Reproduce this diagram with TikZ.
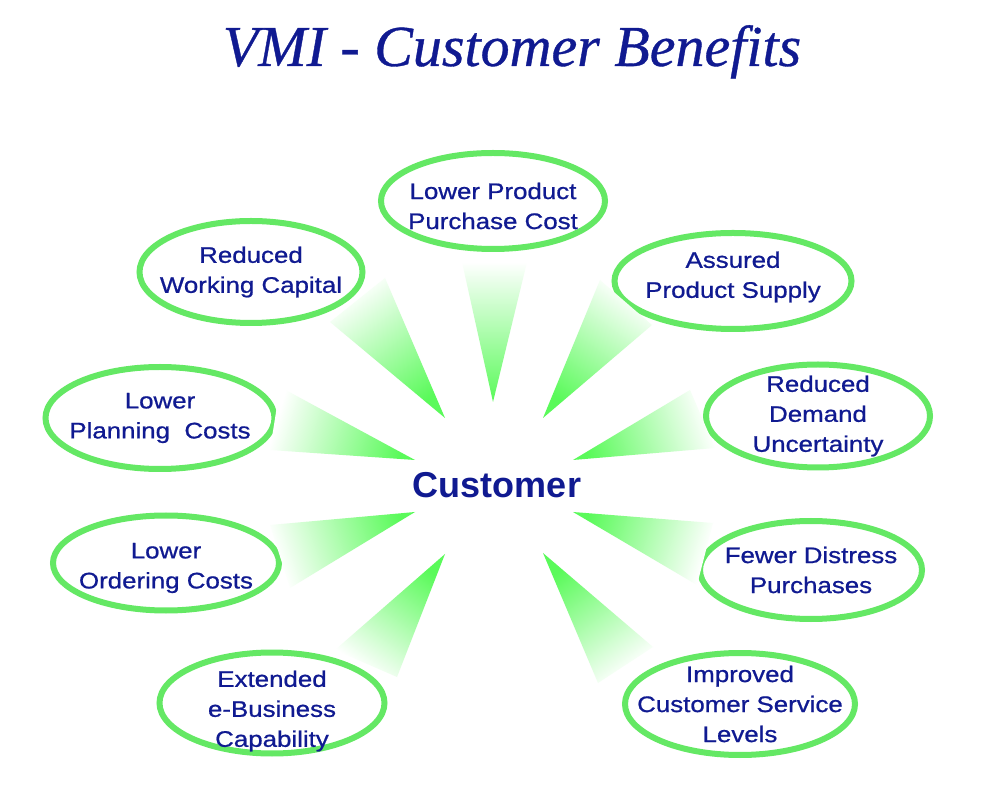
\documentclass[tikz,border=0pt]{standalone}
\usepackage{fontspec}
\setmainfont{Liberation Sans}
\newfontfamily\titlefont[FakeBold=0.6]{Liberation Serif}
\newfontfamily\boxfont[FakeStretch=1.15, FakeBold=0.8]{Liberation Sans}
\usetikzlibrary{shapes.geometric}
\definecolor{textblue}{RGB}{16,26,145}
\definecolor{ringgreen}{RGB}{100,232,100}
\definecolor{raygreen}{RGB}{90,250,90}

\begin{document}
\begin{tikzpicture}[x=1pt, y=1pt,
    benefit/.style={ellipse, draw=ringgreen, line width=6pt, fill=white, inner sep=0pt},
    btext/.style={align=center, text=textblue, font=\boxfont\fontsize{22.5}{30}\selectfont},
    ray/.style={top color=white, bottom color=raygreen}]
    \fill[white] (0,0) rectangle (1000,803);
    \useasboundingbox (0,0) rectangle (1000,803);

    \node (title) [anchor=base, text=textblue, font=\titlefont\itshape\fontsize{58}{60}\selectfont] at (512,737) {VMI - Customer Benefits};
    \node (hub) [anchor=base, text=textblue, font=\bfseries\fontsize{36}{40}\selectfont] at (497,305) {Customer};

    % benefits
    \node (1) [benefit, minimum width=224pt, minimum height=96pt, label={[btext, yshift=-5pt]center:Lower Product\\Purchase Cost}] at (493,602) {};
    \node (2) [benefit, minimum width=223pt, minimum height=102pt, label={[btext]center:Reduced\\Working Capital}] at (251,531) {};
    \node (3) [benefit, minimum width=237pt, minimum height=96pt, label={[btext, yshift=4pt]center:Assured\\Product Supply}] at (733,522) {};
    \node (4) [benefit, minimum width=229pt, minimum height=102pt, label={[btext]center:Lower\\Planning\ \ Costs}] at (160,385) {};
    \node (5) [benefit, minimum width=224pt, minimum height=103pt, label={[btext]center:Reduced\\Demand\\Uncertainty}] at (818,387) {};
    \node (6) [benefit, minimum width=226pt, minimum height=95pt, label={[btext, yshift=-5pt]center:Lower\\Ordering Costs}] at (166,240) {};
    \node (7) [benefit, minimum width=222pt, minimum height=98pt, label={[btext]center:Fewer Distress\\Purchases}] at (811,233) {};
    \node (8) [benefit, minimum width=225pt, minimum height=101pt, label={[btext, yshift=-8pt]center:Extended\\e-Business\\Capability}] at (272,100) {};
    \node (9) [benefit, minimum width=230pt, minimum height=102pt, label={[btext]center:Improved\\Customer Service\\Levels}] at (740,99) {};

    % rays: tip near the hub, wide end near the benefit
    \coordinate (t1) at (493,401); \coordinate (a1) at (462,541); \coordinate (b1) at (527,541);
    \coordinate (t2) at (445,385); \coordinate (a2) at (385,525); \coordinate (b2) at (330,481);
    \coordinate (t3) at (543,385); \coordinate (a3) at (600,523); \coordinate (b3) at (652,478);
    \coordinate (t4) at (415,343); \coordinate (a4) at (280,416); \coordinate (b4) at (270,353);
    \coordinate (t5) at (573,343); \coordinate (a5) at (690,413); \coordinate (b5) at (715,355);
    \coordinate (t6) at (415,291); \coordinate (a6) at (270,278); \coordinate (b6) at (290,215);
    \coordinate (t7) at (573,291); \coordinate (a7) at (713,280); \coordinate (b7) at (697,218);
    \coordinate (t8) at (445,249); \coordinate (a8) at (335,153); \coordinate (b8) at (397,126);
    \coordinate (t9) at (543,250); \coordinate (a9) at (598,120); \coordinate (b9) at (653,156);

    \shade[ray, shading angle=0] (t1) -- (a1) -- (b1) -- cycle;
    \shade[ray, shading angle=36.6] (t2) -- (a2) -- (b2) -- cycle;
    \shade[ray, shading angle=-35.7] (t3) -- (a3) -- (b3) -- cycle;
    \shade[ray, shading angle=73.5] (t4) -- (a4) -- (b4) -- cycle;
    \shade[ray, shading angle=-72.4] (t5) -- (a5) -- (b5) -- cycle;
    \shade[ray, shading angle=108.2] (t6) -- (a6) -- (b6) -- cycle;
    \shade[ray, shading angle=-107.6] (t7) -- (a7) -- (b7) -- cycle;
    \shade[ray, shading angle=144.2] (t8) -- (a8) -- (b8) -- cycle;
    \shade[ray, shading angle=-143.6] (t9) -- (a9) -- (b9) -- cycle;
\end{tikzpicture}
\end{document}
